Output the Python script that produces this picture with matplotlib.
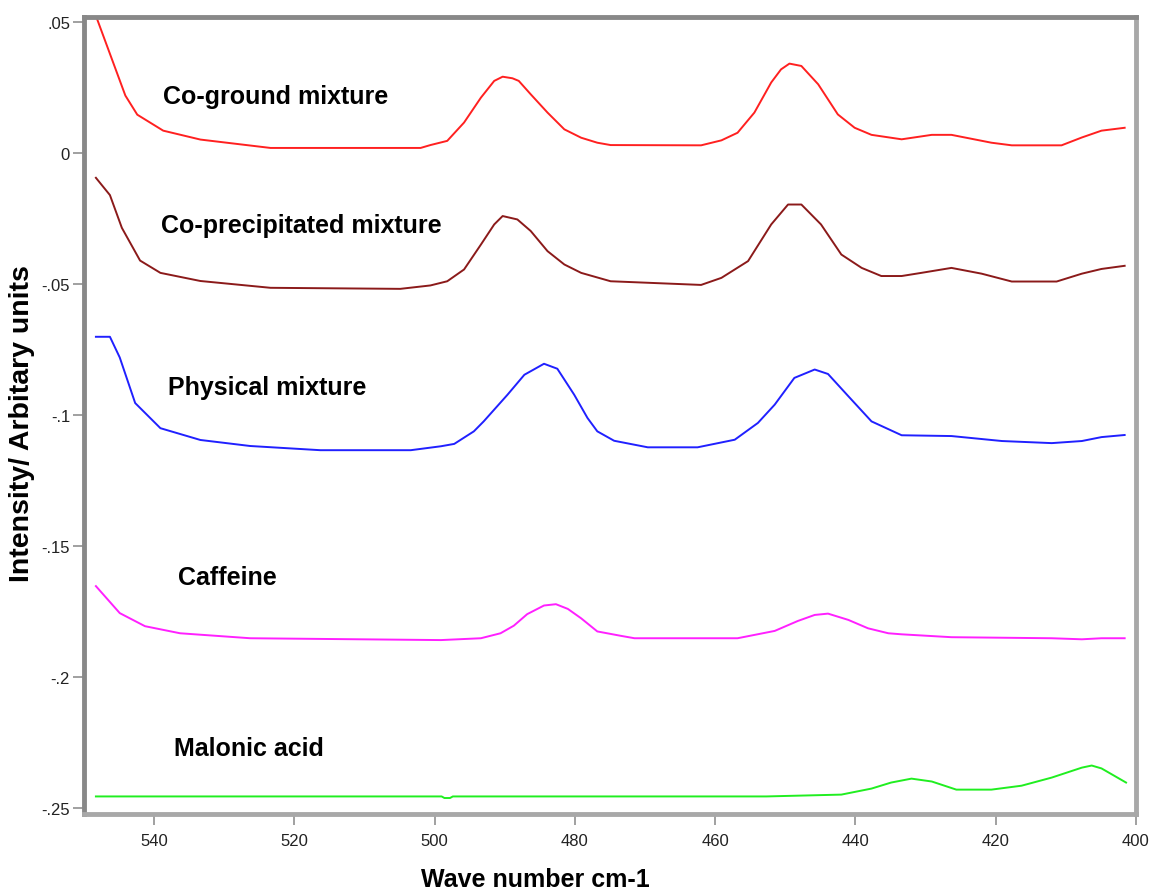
import matplotlib
matplotlib.use("Agg")
import matplotlib.pyplot as plt

# ---- data (wave number cm-1, intensity) ----
x_coground = [548.1, 544.1, 542.4, 538.7, 533.4, 523.4, 502.0,
              500.6, 498.2, 495.8, 493.4, 491.5, 490.3, 488.9, 488.0, 486.3, 483.9, 481.5, 479.1, 476.8, 474.9,
              462.0,
              459.1, 456.8, 454.4, 452.0, 450.6, 449.4, 447.7, 445.3, 442.5, 440.1, 437.7, 433.4,
              429.1, 426.3, 420.6, 417.7, 410.6, 407.7, 404.9, 401.6]
y_coground = [0.051, 0.022, 0.0147, 0.0086, 0.0052, 0.002, 0.002,
              0.0031, 0.0047, 0.0117, 0.0212, 0.0276, 0.0292, 0.0286, 0.0276, 0.0225, 0.0155, 0.0091, 0.0059, 0.0040, 0.0031,
              0.003,
              0.0049, 0.0078, 0.0155, 0.0270, 0.0320, 0.0342, 0.0333, 0.0263, 0.0148, 0.0097, 0.0070, 0.0053,
              0.007, 0.007, 0.004, 0.003, 0.003, 0.006, 0.0086, 0.0097]

x_coprecip = [548.3, 546.3, 544.6, 542.0, 539.1, 533.4, 523.4, 504.9,
              500.6, 498.2, 495.8, 493.4, 491.5, 490.3, 488.2, 486.3, 483.9, 481.5, 479.1, 474.9,
              462.0,
              459.1, 455.3, 452.0, 449.6, 447.7, 444.9, 442.0, 439.1, 436.3, 433.4,
              430.6, 426.3, 422.0, 417.7, 411.3, 407.7, 404.9, 401.6]
y_coprecip = [-0.0094, -0.016, -0.0285, -0.041, -0.0457, -0.0488, -0.0514, -0.0518,
              -0.0505, -0.0489, -0.0444, -0.0349, -0.0272, -0.0240, -0.0253, -0.0297, -0.0374, -0.0425, -0.0457, -0.0489,
              -0.0503,
              -0.0476, -0.0412, -0.0272, -0.0196, -0.0196, -0.0272, -0.0387, -0.0438, -0.0469, -0.0469,
              -0.0457, -0.0438, -0.046, -0.049, -0.049, -0.046, -0.0442, -0.043]

x_physical = [548.3, 546.3, 544.9, 542.7, 539.1, 533.4, 526.3, 516.3, 503.4,
              499.1, 497.2, 494.4, 493.0, 489.6, 487.2, 484.4, 482.5, 480.1, 478.2, 476.8, 474.4, 469.6,
              462.5, 457.2, 453.9, 451.5, 448.7, 445.8, 443.9, 441.0, 437.7, 433.4,
              426.3, 419.1, 412.0, 407.7, 404.9, 401.6]
y_physical = [-0.0701, -0.0701, -0.078, -0.0954, -0.105, -0.1095, -0.1118, -0.1134, -0.1134,
              -0.1119, -0.1110, -0.1062, -0.1024, -0.0922, -0.0846, -0.0804, -0.0823, -0.0922, -0.1011, -0.1062, -0.1098, -0.1123,
              -0.1123, -0.1094, -0.1030, -0.0960, -0.0858, -0.0826, -0.0843, -0.0928, -0.1024, -0.1077,
              -0.108, -0.1099, -0.1107, -0.1099, -0.1084, -0.1076]

x_caffeine = [548.3, 544.9, 541.3, 536.3, 526.3,
              499.1, 493.4, 490.6, 488.7, 486.8, 484.4, 482.7, 481.0, 479.1, 476.8, 473.4, 471.5,
              456.8, 451.5, 448.2, 445.8, 443.9, 441.0, 438.2, 435.3, 433.4,
              426.3, 412.0, 407.7, 404.9, 401.6]
y_caffeine = [-0.1653, -0.1756, -0.1806, -0.1833, -0.1852,
              -0.1859, -0.1852, -0.1833, -0.1804, -0.1760, -0.1727, -0.1722, -0.1740, -0.1776, -0.1826, -0.1843, -0.1852,
              -0.1852, -0.1824, -0.1786, -0.1763, -0.1758, -0.1782, -0.1814, -0.1833, -0.1837,
              -0.1848, -0.1852, -0.1856, -0.1852, -0.1852]

x_malonic = [548.3, 499.0, 498.6, 497.8, 497.4, 452.7, 442.0, 437.7, 434.9, 432.0, 429.1, 425.6,
             420.6, 416.3, 412.0, 407.7, 406.3, 404.9, 401.4]
y_malonic = [-0.2456, -0.2456, -0.2462, -0.2462, -0.2456, -0.2456, -0.2449, -0.2426, -0.2403, -0.2388,
             -0.2399, -0.243, -0.243, -0.2415, -0.2384, -0.2346, -0.2338, -0.2349, -0.2403]

names = ["Co-ground mixture", "Co-precipitated mixture", "Physical mixture", "Caffeine", "Malonic acid"]
xs_all = [x_coground, x_coprecip, x_physical, x_caffeine, x_malonic]
ys_all = [y_coground, y_coprecip, y_physical, y_caffeine, y_malonic]
colors = ["#ff2020", "#8b1a1a", "#2020ff", "#ff20ff", "#20ee20"]
label_x = [538.7, 539.0, 538.0, 536.6, 537.1]
label_y = [0.0193, -0.0300, -0.0919, -0.1646, -0.2296]

x_ticks = [540, 520, 500, 480, 460, 440, 420, 400]
y_ticks = [0.05, 0, -0.05, -0.1, -0.15, -0.2, -0.25]
y_ticklabels = [".05", "0", "-.05", "-.1", "-.15", "-.2", "-.25"]

plt.rcParams['font.family'] = ['Liberation Sans', 'DejaVu Sans']

fig = plt.figure(figsize=(11.52, 8.95), dpi=100)
ax = fig.add_axes([0.0729, 0.0894, 0.9131, 0.8905])

for name, xs, ys, col, tx, ty in zip(names, xs_all, ys_all, colors, label_x, label_y):
    ax.plot(xs, ys, color=col, lw=1.4)
    ax.text(tx, ty, name, fontsize=18, fontweight='bold', ha='left', va='baseline', color='black')

ax.set_xlim(550, 400)
ax.set_ylim(-0.2523, 0.052)
ax.set_xticks(x_ticks)
ax.set_xticklabels([str(t) for t in x_ticks])
ax.set_yticks(y_ticks)
ax.set_yticklabels(y_ticklabels)
ax.tick_params(axis='both', direction='out', length=8, width=1.2, color='#909090',
               labelsize=12, labelcolor='#222222')
ax.tick_params(axis='x', pad=6)
ax.tick_params(axis='y', pad=2)

ax.spines['top'].set_color('#888888')
ax.spines['left'].set_color('#888888')
ax.spines['right'].set_color('#a8a8a8')
ax.spines['bottom'].set_color('#a8a8a8')
for s in ax.spines.values():
    s.set_linewidth(3.5)

fig.text(535.5 / 1152, 1 - 880 / 895, "Wave number cm-1", fontsize=18, fontweight='bold',
         ha='center', va='center')
fig.text(22 / 1152, 1 - 423.5 / 895, "Intensity/ Arbitary units", fontsize=20.5, fontweight='bold',
         ha='center', va='center', rotation=90)

fig.savefig("out.png", dpi=100)
